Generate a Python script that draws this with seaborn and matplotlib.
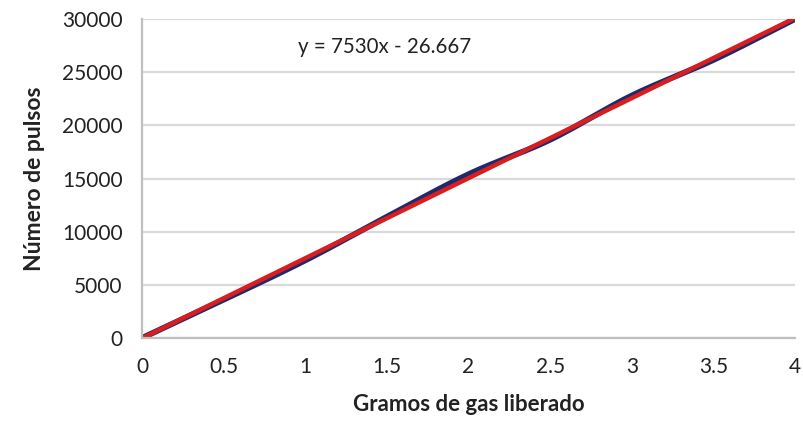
import numpy as np
import pandas as pd
import matplotlib
matplotlib.use("Agg")
import matplotlib.pyplot as plt
import seaborn as sns

# Measured data: grams of gas released vs. pulse count
gramos = [0, 0.5, 1, 1.5, 2, 2.5, 3, 3.5, 4]
pulsos = [0, 3600, 7300, 11400, 15400, 18650, 22800, 26150, 30000]
x_ticks = [0, 0.5, 1, 1.5, 2, 2.5, 3, 3.5, 4]
y_ticks = [0, 5000, 10000, 15000, 20000, 25000, 30000]


def catmull_rom(x, y, n=30):
    """Smooth curve through the points (spreadsheet-style smoothed line)."""
    x = np.asarray(x, float)
    y = np.asarray(y, float)
    px = np.concatenate([[2 * x[0] - x[1]], x, [2 * x[-1] - x[-2]]])
    py = np.concatenate([[2 * y[0] - y[1]], y, [2 * y[-1] - y[-2]]])
    xs, ys = [], []
    for i in range(1, len(px) - 2):
        t = np.linspace(0, 1, n, endpoint=False)
        for p, out in ((px, xs), (py, ys)):
            p0, p1, p2, p3 = p[i - 1], p[i], p[i + 1], p[i + 2]
            out.append(0.5 * ((2 * p1) + (-p0 + p2) * t
                              + (2 * p0 - 5 * p1 + 4 * p2 - p3) * t ** 2
                              + (-p0 + 3 * p1 - 3 * p2 + p3) * t ** 3))
    xs.append([x[-1]])
    ys.append([y[-1]])
    return np.concatenate(xs), np.concatenate(ys)


sns.set_theme(style="white")
plt.rcParams["font.family"] = ["Lato", "DejaVu Sans"]

fig = plt.figure(figsize=(8.04, 4.23), dpi=100)
ax = fig.add_axes([0.1766, 0.2009, 0.8122, 0.7541])

sx, sy = catmull_rom(gramos, pulsos)
smooth = pd.DataFrame({"x": sx, "y": sy})
sns.lineplot(data=smooth, x="x", y="y", ax=ax, color="#1f2a6e",
             linewidth=4.2, sort=False, estimator=None)

# Linear trendline fitted to the measurements
m, b = np.polyfit(gramos, pulsos, 1)
trend = pd.DataFrame({"x": [0, 4]})
trend["y"] = m * trend["x"] + b
sns.lineplot(data=trend, x="x", y="y", ax=ax, color="#d81e1e",
             linewidth=3.2, estimator=None)

sign = "-" if b < 0 else "+"
ax.text(0.955, 27400, f"y = {m:g}x {sign} {abs(b):.3f}", fontsize=14.8,
        color="#222222", ha="left", va="center")

ax.set_xlim(0, 4)
ax.set_ylim(0, 30000)
ax.set_xticks(x_ticks)
ax.set_xticklabels([f"{v:g}" for v in x_ticks])
ax.set_yticks(y_ticks)
ax.set_yticklabels([str(v) for v in y_ticks])
ax.tick_params(axis="both", length=0, labelsize=15, colors="#222222")
ax.tick_params(axis="x", pad=14)
ax.tick_params(axis="y", pad=14)

ax.grid(axis="y", color="#d9d9d9", linewidth=1.6)
ax.grid(axis="x", visible=False)
for side in ("top", "right"):
    ax.spines[side].set_visible(False)
for side in ("left", "bottom"):
    ax.spines[side].set_color("#bfbfbf")
    ax.spines[side].set_linewidth(1.6)

ax.set_xlabel("Gramos de gas liberado", fontsize=16, fontweight="bold",
              color="#222222", labelpad=12)
ax.set_ylabel("Número de pulsos", fontsize=16.5, fontweight="bold",
              color="#222222", labelpad=12)

fig.savefig("out.png", dpi=100, facecolor="white")
